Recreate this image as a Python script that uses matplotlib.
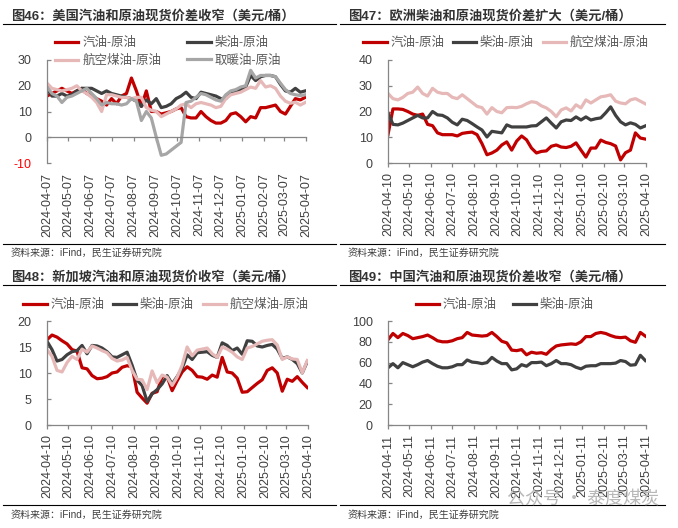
import matplotlib
matplotlib.use('Agg')
import matplotlib.pyplot as plt
import pandas as pd
from matplotlib.lines import Line2D

plt.rcParams['font.family'] = ['Liberation Sans', 'Noto Sans CJK SC', 'DejaVu Sans']

# ---------------- data ----------------
us_start, us_end = '2024-04-07', '2025-04-07'
eu_start, eu_end = '2024-04-10', '2025-04-10'
sg_start, sg_end = '2024-04-10', '2025-04-10'
cn_start, cn_end = '2024-04-11', '2025-04-11'

us_gasoline = [16, 17, 18, 19, 18, 17, 18, 19, 17, 16,
               15, 14, 12.5, 15, 13, 16, 17, 23, 18, 12,
               18, 10, 10, 9, 9.5, 10, 11, 11.5, 8, 7.5,
               7.5, 10, 8, 6.5, 5.5, 5.5, 6.5, 9, 9.5, 8,
               6, 8, 7.5, 11.5, 11.5, 12, 12.5, 10, 9, 12,
               15, 14.5, 15.5]
us_diesel = [19, 16, 16, 17, 16, 16.5, 18, 19, 19, 19,
             18, 17, 18, 17, 16.5, 16, 15.5, 15, 14, 12,
             14.5, 13, 15, 11.5, 12, 13, 15, 16, 17.5, 15.5,
             15, 17.5, 17, 16.5, 16, 15, 15, 17, 18, 18.5,
             19.5, 24, 22, 23.5, 24, 24, 23.5, 20.5, 18, 17.5,
             19, 17.5, 18]
us_jet = [21, 19, 18.5, 18, 18.5, 19, 20, 18, 17, 15.5,
          13.5, 10, 16.5, 16.5, 16, 15.5, 15.5, 15, 15.5, 15.5,
          11.5, 10.5, 10, 8, 9, 10, 11, 12.5, 13, 11.5,
          13, 13.5, 13, 12.5, 11.5, 12, 15, 16.5, 17, 17.5,
          18.5, 19.5, 19, 22, 19.5, 20, 19, 16, 14, 13.2,
          13.6, 12.5, 13.5]
us_heating = [19.5, 17, 16, 13.5, 15.5, 16, 17, 18, 19, 17,
              15, 12.5, 13.5, 13, 13, 12.5, 13, 15, 14, 6.5,
              10, 7.5, 0, -7, -6.5, -5, -3.5, -2, 13.5, 14,
              15.5, 17, 16.5, 15.5, 14.5, 14, 16.5, 18, 18.5, 19.5,
              20, 26, 23, 24, 24, 24, 23.5, 21, 18.5, 17,
              16.5, 16.2, 16.5]

eu_gasoline = [11, 21, 21, 20.8, 20, 19, 18.5, 19, 15, 14.5,
               11.7, 11, 11, 11, 10.5, 11.5, 11.8, 12, 11, 7.5,
               3.2, 3.9, 5, 7, 8.2, 5, 8.5, 10.5, 9, 5.8,
               3.9, 4.5, 4.7, 6.5, 7, 6.2, 6, 6.5, 7.8, 5,
               2.3, 5.8, 5.8, 8.9, 8, 7.5, 6.6, 1.2, 4, 5,
               11.7, 9.7, 9.3]
eu_diesel = [19.5, 15, 14.8, 15.5, 16.5, 17.5, 18.5, 17.5, 17.5, 20,
             18.7, 18.5, 17.5, 15.8, 14.8, 17, 16.5, 15.3, 14, 12.8,
             10.1, 12.3, 12, 11.7, 14.8, 14, 14, 14, 14, 14.4,
             14.5, 16, 17.5, 15.5, 13.6, 16, 16.7, 16.5, 17.9, 16.7,
             17.9, 16.7, 17.2, 17.5, 19.5, 21.8, 18.5, 16, 14.8, 15.6,
             15, 13.6, 14.4]
eu_jet = [27, 25, 24.5, 25.5, 27, 27.5, 29.5, 27, 26, 29,
          27.5, 27, 27, 25.5, 25, 26.5, 25, 23.5, 22, 21.5,
          19, 21.5, 20, 19.5, 21.5, 21.6, 21.5, 22, 23, 23.8,
          23.5, 22.2, 21.4, 20, 18, 20.6, 21.4, 20.2, 22.6, 21.4,
          24.5, 23.3, 24.5, 25.7, 26, 26.5, 24, 23.3, 23, 24.5,
          25, 24, 23]

sg_gasoline = [16.4, 17.3, 16.9, 16.2, 15.6, 14.5, 14.2, 11.0, 10.8, 9.5,
               8.9, 9.0, 9.3, 10.0, 10.2, 11.1, 11.4, 11.2, 6.3, 5.2,
               4.2, 6.1, 6.4, 9.3, 9.3, 6.6, 8.5, 10.2, 11.2, 10.5,
               9.3, 9.2, 8.8, 9.6, 9.2, 13.0, 10.2, 10.0, 9.0, 6.3,
               6.4, 7.2, 8.0, 8.7, 10.5, 11.0, 10.0, 6.5, 8.8, 8.4,
               9.3, 8.2, 7.2]
sg_diesel = [16.1, 14.5, 12.3, 12.6, 13.5, 14.1, 14.3, 15.3, 13.7, 15.3,
             15.2, 14.8, 14.1, 13.1, 13.0, 13.5, 14.0, 11.5, 8.6, 7.6,
             4.5, 6.0, 6.8, 7.9, 9.5, 7.9, 9.3, 10.9, 13.5, 12.6,
             13.9, 14.0, 14.1, 13.4, 13.0, 15.8, 15.3, 14.3, 14.8, 13.6,
             16.2, 16.1, 15.2, 15.0, 15.3, 15.5, 14.6, 12.8, 13.1, 12.6,
             11.8, 10.0, 12.2]
sg_jet = [14.5, 13.2, 10.5, 10.2, 12.0, 13.2, 12.6, 14.6, 14.0, 15.2,
          14.8, 14.3, 13.9, 12.8, 12.3, 12.5, 13.0, 10.5, 8.8, 8.7,
          6.8, 10.4, 8.1, 9.6, 9.2, 7.6, 9.2, 11.5, 15.0, 13.3,
          14.4, 14.6, 14.8, 13.7, 13.0, 15.0, 14.6, 14.0, 13.1, 12.6,
          14.8, 15.1, 15.6, 16.1, 16.3, 16.4, 15.4, 12.6, 13.1, 12.7,
          12.6, 10.0, 12.4]

cn_gasoline = [82, 88, 84, 88, 86, 83, 84, 85, 86.5, 84,
               81, 80, 80, 81, 83, 84, 89, 86.5, 86, 85.5,
               86, 89, 85, 80.5, 79, 72, 71.5, 72.5, 67.5, 70,
               69, 69.5, 68, 72.5, 76, 77, 77.5, 78, 77.5, 80,
               85, 85, 88, 89, 88, 86, 84.5, 84, 84.5, 81,
               79.5, 89, 85.5]
cn_diesel = [55, 59, 55, 60, 58, 56, 58, 60.5, 62, 59,
             56.5, 55, 55, 56, 58, 58, 62.5, 60.5, 60, 59,
             60, 65, 61.5, 59, 59, 53, 54, 58, 56.5, 60,
             60, 60.5, 57, 59, 62, 59, 59, 58, 55.5, 54,
             56.5, 57, 57, 59, 59, 59, 59.5, 62, 61, 57.5,
             58, 67, 62]

# ---------------- style ----------------
W, H = 678, 528
RED = '#C00000'
DARK = '#404040'
PINK = '#E6B9B8'
LGRAY = '#A6A6A6'
SPINE = '#868686'
TXT = '#404040'
LEGTXT = '#595959'
LW = 2.3

fig = plt.figure(figsize=(W / 100, H / 100), dpi=100)


def rect(x0, x1, yt, yb):
    return [x0 / W, 1 - yb / H, (x1 - x0) / W, (yb - yt) / H]


def setup(ax, start, end, ylim, yticks, zero=None):
    pad_x = 3.8
    if zero is not None:
        ax.spines['bottom'].set_position(('data', zero))
        pad_x = 22.5
    ax.set_xlim(pd.Timestamp(start), pd.Timestamp(end))
    ax.set_ylim(*ylim)
    ax.set_yticks(yticks, [str(v) for v in yticks])
    ticks = pd.date_range(start, end, freq=pd.DateOffset(months=1))
    ax.set_xticks(ticks, [t.strftime('%Y-%m-%d') for t in ticks])
    for s in ['top', 'right']:
        ax.spines[s].set_visible(False)
    for s in ['left', 'bottom']:
        ax.spines[s].set_color(SPINE)
        ax.spines[s].set_linewidth(0.9)
    ax.tick_params(axis='x', direction='out', length=3, width=0.9, color=SPINE,
                   labelsize=9, labelcolor=TXT, pad=pad_x, labelrotation=90)
    ax.tick_params(axis='y', direction='in', length=3, width=0.9, color=SPINE,
                   labelsize=9, labelcolor=TXT, pad=11)
    ax.patch.set_alpha(0)


def legend(ax, handles, labels, cx, cy, ncol, colsp):
    ax.legend(handles, labels, loc='center', bbox_to_anchor=(cx / W, 1 - cy / H),
              bbox_transform=fig.transFigure, ncol=ncol, frameon=False, fontsize=9,
              handlelength=1.85, handletextpad=0.3, columnspacing=colsp,
              labelspacing=0.45, borderpad=0, borderaxespad=0, labelcolor=LEGTXT)


def frame(x0, x1, title, ytitle, yline, ysrcline, ysrc):
    fig.text((x0 + 8) / W, 1 - ytitle / H, title, fontsize=9.5, fontweight='bold',
             color='#333333', ha='left', va='center')
    fig.add_artist(Line2D([x0 / W, x1 / W], [1 - yline / H] * 2, color='black', lw=0.8))
    fig.add_artist(Line2D([x0 / W, x1 / W], [1 - ysrcline / H] * 2, color='black', lw=0.8))
    fig.text((x0 + 8) / W, 1 - ysrc / H, '资料来源：iFind，民生证券研究院', fontsize=7.2,
             color='#404040', ha='left', va='center')


# ---------------- panel 1: US ----------------
ax1 = fig.add_axes(rect(47, 306, 60, 163))
d1 = pd.date_range(us_start, periods=len(us_gasoline), freq='7D')
l_g, = ax1.plot(d1, us_gasoline, color=RED, lw=LW)
l_d, = ax1.plot(d1, us_diesel, color=DARK, lw=LW)
l_j, = ax1.plot(d1, us_jet, color=PINK, lw=LW)
l_h, = ax1.plot(d1, us_heating, color=LGRAY, lw=LW)
setup(ax1, us_start, us_end, (-10, 30), [-10, 0, 10, 20, 30], zero=0)
ax1.get_yticklabels()[0].set_color('#FF0000')
legend(ax1, [l_g, l_j, l_d, l_h], ['汽油-原油', '航空煤油-原油', '柴油-原油', '取暖油-原油'],
       168, 52, 2, 2.1)
frame(3, 336, '图46：美国汽油和原油现货价差收窄（美元/桶）', 16, 23.5, 244, 253)

# ---------------- panel 2: Europe ----------------
ax2 = fig.add_axes(rect(388, 646, 60, 163))
d2 = pd.date_range(eu_start, periods=len(eu_gasoline), freq='7D')
m_g, = ax2.plot(d2, eu_gasoline, color=RED, lw=LW)
m_d, = ax2.plot(d2, eu_diesel, color=DARK, lw=LW)
m_j, = ax2.plot(d2, eu_jet, color=PINK, lw=LW)
setup(ax2, eu_start, eu_end, (0, 40), [0, 10, 20, 30, 40])
legend(ax2, [m_g, m_d, m_j], ['汽油-原油', '柴油-原油', '航空煤油-原油'], 506, 43, 3, 0.7)
frame(340, 665, '图47：欧洲柴油和原油现货价差扩大（美元/桶）', 16, 23.5, 244, 253)

# ---------------- panel 3: Singapore ----------------
ax3 = fig.add_axes(rect(47, 308, 321, 425))
d3 = pd.date_range(sg_start, periods=len(sg_gasoline), freq='7D')
n_g, = ax3.plot(d3, sg_gasoline, color=RED, lw=LW)
n_d, = ax3.plot(d3, sg_diesel, color=DARK, lw=LW)
n_j, = ax3.plot(d3, sg_jet, color=PINK, lw=LW)
setup(ax3, sg_start, sg_end, (0, 20), [0, 5, 10, 15, 20])
legend(ax3, [n_g, n_d, n_j], ['汽油-原油', '柴油-原油', '航空煤油-原油'], 166, 305, 3, 0.7)
frame(3, 336, '图48：新加坡汽油和原油现货价收窄（美元/桶）', 277, 285, 505, 515)

# ---------------- panel 4: China ----------------
ax4 = fig.add_axes(rect(388, 646, 321, 425))
d4 = pd.date_range(cn_start, periods=len(cn_gasoline), freq='7D')
o_g, = ax4.plot(d4, cn_gasoline, color=RED, lw=LW)
o_d, = ax4.plot(d4, cn_diesel, color=DARK, lw=LW)
setup(ax4, cn_start, cn_end, (0, 100), [0, 20, 40, 60, 80, 100])
legend(ax4, [o_g, o_d], ['汽油-原油', '柴油-原油'], 505, 305, 2, 1.3)
frame(340, 665, '图49：中国汽油和原油现货价差收窄（美元/桶）', 277, 285, 505, 515)

# watermark
fig.text(507 / W, 1 - 498 / H, '公众号 · 泰度煤炭', fontsize=13, color='#b8b8b8',
         ha='left', va='center', family=['Noto Sans CJK SC', 'DejaVu Sans'])

fig.savefig('out.png', dpi=100, facecolor='white')
